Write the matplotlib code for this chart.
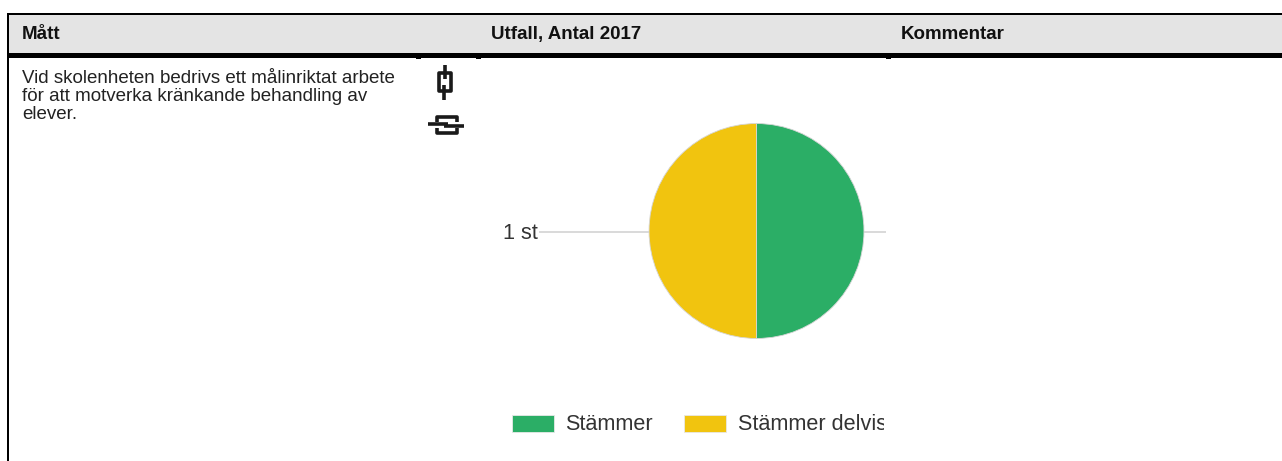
import matplotlib
matplotlib.use('Agg')
import matplotlib.pyplot as plt
from matplotlib.patches import Rectangle
from matplotlib.transforms import Bbox

W, H = 1282, 461

# table text
headers = ['Mått', 'Utfall, Antal 2017', 'Kommentar']
header_x = [22, 491, 901]
body_lines = ['Vid skolenheten bedrivs ett målinriktat arbete',
              'för att motverka kränkande behandling av',
              'elever.']

# chart data
labels = ['Stämmer', 'Stämmer delvis']
values = [1, 1]
colors = ['#2bae66', '#f1c40f']
slice_label = '1 st'

plt.rcParams['font.family'] = ['Liberation Sans', 'DejaVu Sans']

fig = plt.figure(figsize=(W / 100, H / 100), dpi=100)
ax = fig.add_axes([0, 0, 1, 1])
ax.set_xlim(0, W)
ax.set_ylim(H, 0)
ax.axis('off')

# Header band and table rules
ax.add_patch(Rectangle((8, 14), W - 8, 40, fc='#e4e4e4', ec='none'))
ax.add_patch(Rectangle((7, 13), W - 7, 2, fc='black', ec='none'))
ax.add_patch(Rectangle((7, 53), W - 7, 5, fc='black', ec='none'))
ax.add_patch(Rectangle((7, 13), 2, H - 13, fc='black', ec='none'))
for tick_x in [416, 476, 886]:
    ax.add_patch(Rectangle((tick_x, 58), 5, 1.5, fc='black', ec='none'))

for name, x in zip(headers, header_x):
    ax.text(x, 39, name, fontsize=13.5, fontweight='bold', color='#111111', va='baseline')

for i, line in enumerate(body_lines):
    ax.text(22, 83 + i * 18, line, fontsize=13.5, color='#222222', va='baseline')

# Icons next to the chart
icon_kw = dict(color='#1a1a1a', lw=2.6, solid_capstyle='butt', solid_joinstyle='round')
ax.plot([446, 439, 439, 444], [73, 73, 91, 91], **icon_kw)
ax.plot([446, 451, 451, 444], [73, 73, 91, 91], **icon_kw)
ax.plot([445, 445], [65, 79], **icon_kw)
ax.plot([444, 444], [85, 100], **icon_kw)
ax.plot([437, 437, 457, 457], [122, 117, 117, 122], **icon_kw)
ax.plot([437, 437, 457, 457], [128, 133, 133, 128], **icon_kw)
ax.plot([428, 448], [124, 124], **icon_kw)
ax.plot([444, 464], [126, 126], **icon_kw)

# Guide lines of the pie label
ax.plot([540, 650], [232, 232], color='#d9d9d9', lw=1.4)
ax.plot([863, 884.5], [232, 232], color='#d9d9d9', lw=1.4)
ax.text(503, 239, slice_label, fontsize=15.7, color='#333333', va='baseline')

# Pie in its own axes
cx, cy, r = 756.5, 231, 108
pie_ax = fig.add_axes([(cx - r) / W, 1 - (cy + r) / H, 2 * r / W, 2 * r / H])
pie_ax.pie(values, colors=colors, startangle=90, counterclock=False, radius=0.995,
           wedgeprops=dict(edgecolor='#d5d5d5', linewidth=0.6))
pie_ax.set_xlim(-1, 1)
pie_ax.set_ylim(-1, 1)

# Legend, cut off at the edge of the chart image
clip = Bbox([[0, 0], [884, H]])
for x, tx, label, color in zip([512, 684], [565, 738], labels, colors):
    ax.add_patch(Rectangle((x, 415), 42, 17, fc=color, ec='#e8e8e8', lw=0.6))
    t = ax.text(tx, 430, label, fontsize=15.6, color='#333333', va='baseline', clip_on=True)
    t.set_clip_box(clip)  # ax.text sets its own clip to the axes, so override afterwards

fig.savefig('out.png', dpi=100)
